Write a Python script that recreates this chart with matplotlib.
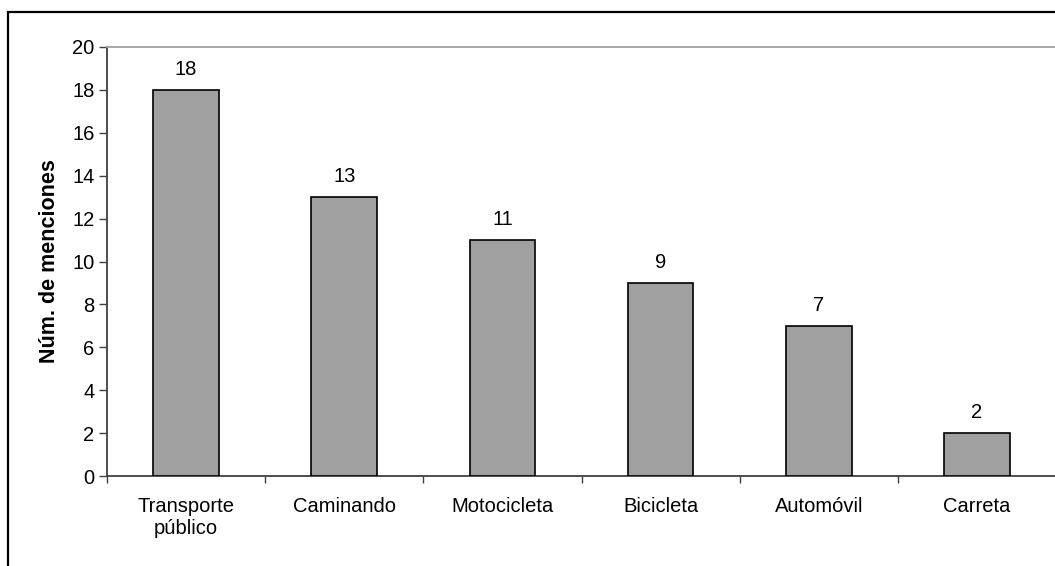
import matplotlib
matplotlib.use("Agg")
import matplotlib.pyplot as plt
from matplotlib.patches import Rectangle
import numpy as np

categories = ["Transporte\npúblico", "Caminando", "Motocicleta", "Bicicleta", "Automóvil", "Carreta"]
values = [18, 13, 11, 9, 7, 2]
yticks = [0, 2, 4, 6, 8, 10, 12, 14, 16, 18, 20]

plt.rcParams['font.family'] = ['Liberation Sans', 'DejaVu Sans']
FS = 14.5

W, H = 1055, 566
fig = plt.figure(figsize=(W / 100, H / 100), dpi=100)
fig.patch.set_facecolor("white")

# outer chart border
fig.patches.append(Rectangle((8 / W, -0.2), 1.2, 1.2 - 12 / H, transform=fig.transFigure,
                             fill=False, edgecolor="black", linewidth=1.6, zorder=0))

left, right, top, bottom = 107, 1056, 47, 476
ax = fig.add_axes([left / W, 1 - bottom / H, (right - left) / W, (bottom - top) / H])

x = np.arange(len(categories))
ax.bar(x, values, width=0.415, color="#a0a0a0", edgecolor="black", linewidth=1.2, zorder=3)

for xi, v in zip(x, values):
    ax.annotate(str(v), (xi, v), xytext=(0, 8), textcoords="offset points",
                ha="center", va="bottom", fontsize=FS)

ax.set_xlim(-0.5, len(categories) - 0.5)
ax.set_ylim(0, 20)
ax.set_yticks(yticks)
ax.tick_params(axis="y", direction="out", length=6, width=1, color="#404040", labelsize=FS, pad=3)

ax.set_xticks(np.arange(len(categories) + 1) - 0.5)
ax.set_xticklabels([])
ax.tick_params(axis="x", which="major", direction="out", length=5, width=1, color="#404040")
ax.set_xticks(x, minor=True)
ax.set_xticklabels(categories, minor=True, fontsize=FS)
ax.tick_params(axis="x", which="minor", length=0, pad=15)

for s in ["left", "bottom"]:
    ax.spines[s].set_color("#404040")
    ax.spines[s].set_linewidth(1.3)
for s in ["top", "right"]:
    ax.spines[s].set_color("#a0a0a0")
    ax.spines[s].set_linewidth(1.3)

ax.set_ylabel("Núm. de menciones", fontsize=15.5, fontweight="bold", labelpad=9)

fig.savefig("out.png", dpi=100)
